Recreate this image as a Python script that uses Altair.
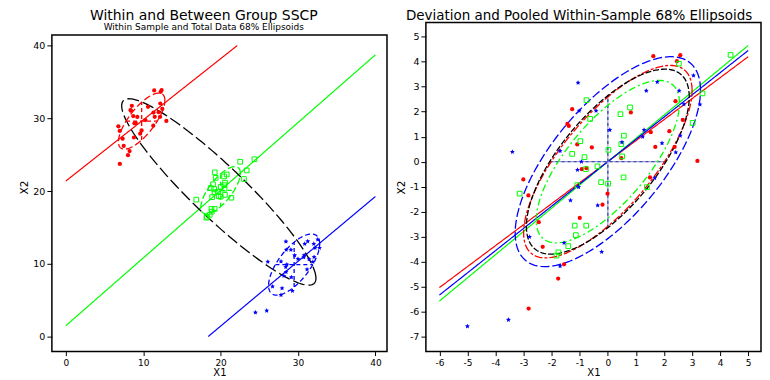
import math
import altair as alt
import pandas as pd

# ---------------- data ----------------
groups = ["red", "green", "blue"]
colors = {"red": "#FF0000", "green": "#00FF00", "blue": "#0000FF"}

# deviations from each group's mean (right panel)
red_dx = [1.62, 2.58, 2.46, -1.27, -1.44, -1.39, -1.09, -0.57, -0.93, -0.76,
          -3.01, 2.41, 0.82, 2.67, 2.19, 1.53, 1.69, 2.38, 0.48, 3.19,
          1.50, -2.83, -1.00, -2.46, -2.32, -1.56, -1.77, -2.82, -0.01, -0.19]
red_dy = [4.22, 4.26, 4.02, 2.10, 1.51, 1.43, 0.69, 0.57, -0.30, -0.26,
          -0.71, 2.42, 1.97, 1.67, 1.22, 1.18, 0.59, 0.59, 0.14, 0.03,
          -0.63, -1.35, -2.25, -2.42, -3.41, -4.11, -4.68, -5.88, -1.28, -1.72]
green_dx = [-0.76, -0.63, -0.98, -1.27, -0.83, -0.78, -1.09, 2.53, 4.37, 3.37,
            0.79, 0.45, 3.02, 0.57, 0.48, 0.02, 0.51, -0.37, 0.56, -0.24,
            0.01, 1.39, -3.14, -1.18, -0.77, -1.14, -1.41, -1.76, -1.83]
green_dy = [2.46, 1.71, 0.82, 0.31, 0.18, -0.30, -0.94, 3.92, 4.27, 2.73,
            2.17, 1.90, 1.55, 1.04, 0.70, 0.47, 0.21, -0.19, -0.63, -0.82,
            -0.88, -1.02, -1.28, -2.56, -2.56, -2.94, -3.38, -3.63, -3.76]
blue_dx = [-1.06, -3.40, -1.02, -1.70, -0.94, -1.08, -1.04, 1.76, 3.05, 1.37,
           2.54, 2.71, 3.28, -0.42, 0.07, 1.29, 1.24, 2.58, 0.50, 1.93,
           2.42, 1.67, -1.33, -2.79, -1.56, -1.70, -3.54, -5.00, -0.36, -0.22]
blue_dy = [3.16, 0.39, 2.04, 0.43, 0.00, -0.33, -1.02, 3.19, 3.45, 2.84,
           2.84, 2.30, 2.29, 2.04, 1.27, 1.27, 1.00, 1.04, 0.78, 0.74,
           0.37, -0.66, -1.55, -3.01, -3.25, -4.18, -6.33, -6.59, -1.75, -3.61]

# group means (left panel)
mean_x = {"red": 9.8, "green": 20.0, "blue": 29.5}
mean_y = {"red": 29.6, "green": 20.1, "blue": 9.9}
# within-group regression slopes
slope = {"red": 0.84, "green": 0.93, "blue": 0.89}
# within-group 68% ellipse parameters (sd x, sd y, correlation)
ell_sx = {"red": 3.0, "green": 2.55, "blue": 3.3}
ell_sy = {"red": 3.85, "green": 3.25, "blue": 4.2}
ell_r = {"red": 0.74, "green": 0.72, "blue": 0.68}
# total-data ellipse and pooled within ellipse
total_ell = {"cx": 19.77, "cy": 19.87, "sx": 12.55, "sy": 12.8, "r": -0.925}
pooled_ell = {"sx": 2.9, "sy": 3.7, "r": 0.70}

left_ticks = [0, 10, 20, 30, 40]
right_xticks = [-6, -5, -4, -3, -2, -1, 0, 1, 2, 3, 4, 5]
right_yticks = [-7, -6, -5, -4, -3, -2, -1, 0, 1, 2, 3, 4, 5]

# plot-frame extents (data units)
left_frame = {"x": -1.8, "x2": 41.5, "y": -2.05, "y2": 41.44}
right_frame = {"x": -6.48, "x2": 5.455, "y": -7.6, "y2": 5.57}

dev = {"red": (red_dx, red_dy), "green": (green_dx, green_dy), "blue": (blue_dx, blue_dy)}
rows = []
for g in groups:
    for dx, dy in zip(*dev[g]):
        rows.append({"group": g, "dx": dx, "dy": dy,
                     "x": mean_x[g] + dx, "y": mean_y[g] + dy})
pts = pd.DataFrame(rows)

# ---------------- helpers ----------------
LX = alt.Scale(domain=[left_frame["x"], left_frame["x2"]], nice=False, zero=False)
LY = alt.Scale(domain=[left_frame["y"], 43.15], nice=False, zero=False)
RX = alt.Scale(domain=[right_frame["x"], right_frame["x2"]], nice=False, zero=False)
RY = alt.Scale(domain=[right_frame["y"], right_frame["y2"]], nice=False, zero=False)
LBL = "toString(datum.value)"


def xenc(sc, ticks, f="x"):
    return alt.X(f"{f}:Q", scale=sc, axis=alt.Axis(values=ticks, title="X1", labelExpr=LBL))


def yenc(sc, ticks, f="y"):
    return alt.Y(f"{f}:Q", scale=sc, axis=alt.Axis(values=ticks, title="X2", labelExpr=LBL))


def ellipse(cx, cy, sx, sy, r, color, dash, xs, ys, xt, yt, sw=1.3):
    k = math.sqrt(1 - r * r)
    return alt.Chart(alt.sequence(0, 181, 1, as_="i")).transform_calculate(
        t="datum.i * 2 * PI / 180"
    ).transform_calculate(
        x=f"{cx} + {sx} * cos(datum.t)",
        y=f"{cy} + {sy} * ({r} * cos(datum.t) + {k} * sin(datum.t))",
    ).mark_line(color=color, strokeDash=dash, strokeWidth=sw, clip=True).encode(
        x=xenc(xs, xt), y=yenc(ys, yt), order="i:Q"
    )


def regline(mx, my, b, color, x0, x1, ylo, yhi, xs, ys, xt, yt):
    return alt.Chart(alt.sequence(x0, x1 + 0.001, 0.05, as_="x")).transform_calculate(
        y=f"{my} + {b} * (datum.x - {mx})"
    ).transform_filter(
        f"datum.y >= {ylo} && datum.y <= {yhi}"
    ).mark_line(color=color, strokeWidth=1.2, clip=True).encode(
        x=xenc(xs, xt), y=yenc(ys, yt)
    )


def cross(cx, cy, sx, sy, r, color, dash, xs, ys, xt, yt, sw=1.3):
    k = math.sqrt(1 - r * r)
    d = pd.DataFrame({
        "x": [cx - sx * k, cx], "x2": [cx + sx * k, cx],
        "y": [cy, cy - sy * k], "y2": [cy, cy + sy * k],
    })
    props = dict(color=color, strokeWidth=sw)
    if dash:
        props["strokeDash"] = dash
    return alt.Chart(d).mark_rule(**props).encode(
        x=xenc(xs, xt), x2="x2:Q", y=yenc(ys, yt), y2="y2:Q"
    )


def frame(fr, xs, ys, xt, yt):
    return alt.Chart(pd.DataFrame([fr])).mark_rect(
        fillOpacity=0, stroke="black", strokeWidth=1.5
    ).encode(x=xenc(xs, xt), x2="x2:Q", y=yenc(ys, yt), y2="y2:Q")


STAR = "M0,-1L0.28,-0.38L0.95,-0.31L0.45,0.15L0.59,0.81L0,0.48L-0.59,0.81L-0.45,0.15L-0.95,-0.31L-0.28,-0.38Z"


def points(xs, ys, xt, yt, xf, yf):
    base = alt.Chart(pts)
    r = base.transform_filter("datum.group == 'red'").mark_point(
        shape="circle", filled=True, size=18, color=colors["red"], opacity=1
    ).encode(x=xenc(xs, xt, xf), y=yenc(ys, yt, yf))
    g = base.transform_filter("datum.group == 'green'").mark_point(
        shape="square", filled=False, size=22, color=colors["green"], strokeWidth=1, opacity=1
    ).encode(x=xenc(xs, xt, xf), y=yenc(ys, yt, yf))
    b = base.transform_filter("datum.group == 'blue'").mark_point(
        shape=STAR, filled=True, size=26, color=colors["blue"], opacity=1
    ).encode(x=xenc(xs, xt, xf), y=yenc(ys, yt, yf))
    return [r, g, b]


# ---------------- left panel ----------------
ldash = {"red": [7, 3], "green": [7, 3], "blue": [5, 3]}
left_layers = []
for g in groups:
    left_layers.append(regline(mean_x[g], mean_y[g], slope[g], colors[g], 0, 40, 0, 40,
                               LX, LY, left_ticks, left_ticks))
left_layers.append(ellipse(total_ell["cx"], total_ell["cy"], total_ell["sx"], total_ell["sy"],
                           total_ell["r"], "black", [12, 4], LX, LY, left_ticks, left_ticks))
for g in groups:
    left_layers.append(ellipse(mean_x[g], mean_y[g], ell_sx[g], ell_sy[g], ell_r[g], colors[g],
                               ldash[g], LX, LY, left_ticks, left_ticks))
    left_layers.append(cross(mean_x[g], mean_y[g], ell_sx[g], ell_sy[g], ell_r[g], colors[g],
                             [4, 3], LX, LY, left_ticks, left_ticks))
left_layers += points(LX, LY, left_ticks, left_ticks, "x", "y")
left_layers.append(frame(left_frame, LX, LY, left_ticks, left_ticks))

left = alt.layer(*left_layers).properties(
    width=336, height=330,
    title=alt.TitleParams(
        text="Within and Between Group SSCP",
        subtitle="Within Sample and Total Data 68% Ellipsoids",
        font="DejaVu Sans", subtitleFont="DejaVu Sans",
        fontSize=14, subtitleFontSize=9, fontWeight="normal",
        color="black", subtitleColor="black",
        anchor="middle", frame="bounds", offset=-10, subtitlePadding=0,
    ),
)

# ---------------- right panel ----------------
rdash = {"red": [8, 2, 3, 2], "green": [7, 3, 2, 3], "blue": [9, 3]}
right_layers = []
for g in groups:
    right_layers.append(regline(0, 0, slope[g], colors[g], -6, 5, -100, 100,
                                RX, RY, right_xticks, right_yticks))
right_layers.append(cross(0, 0, pooled_ell["sx"], pooled_ell["sy"], pooled_ell["r"], "#a59ad8",
                          None, RX, RY, right_xticks, right_yticks, sw=1.2))
right_layers.append(cross(0, 0, pooled_ell["sx"], pooled_ell["sy"], pooled_ell["r"], "#3c55b0",
                          [3, 3], RX, RY, right_xticks, right_yticks, sw=1.4))
for g in ["blue", "red"]:
    right_layers.append(ellipse(0, 0, ell_sx[g], ell_sy[g], ell_r[g], colors[g], rdash[g],
                                RX, RY, right_xticks, right_yticks))
right_layers.append(ellipse(0, 0, pooled_ell["sx"], pooled_ell["sy"], pooled_ell["r"], "black",
                            [6, 2], RX, RY, right_xticks, right_yticks))
right_layers.append(ellipse(0, 0, ell_sx["green"], ell_sy["green"], ell_r["green"], colors["green"],
                            rdash["green"], RX, RY, right_xticks, right_yticks))
right_layers += points(RX, RY, right_xticks, right_yticks, "dx", "dy")
right_layers.append(frame(right_frame, RX, RY, right_xticks, right_yticks))

right = alt.layer(*right_layers).properties(
    width=336, height=330,
    title=alt.TitleParams(
        text="Deviation and Pooled Within-Sample 68% Ellipsoids",
        font="DejaVu Sans", fontSize=13.5, fontWeight="normal", color="black",
        anchor="middle", frame="bounds", offset=-1,
    ),
)

chart = alt.hconcat(left, right, spacing=8).properties(
    padding={"left": 11, "top": 0, "right": 0, "bottom": 0}
).configure_axis(
    labelFont="DejaVu Sans", labelFontSize=9.5, labelColor="black",
    titleFont="DejaVu Sans", titleFontSize=10.5, titleFontWeight="normal", titleColor="black",
    tickColor="black", domain=False, tickSize=5, labelPadding=2, titlePadding=3,
    grid=False,
).configure_axisX(titlePadding=0, tickSize=4, labelPadding=3, labelFontSize=9,
                  titleFontSize=10).configure_view(stroke=None)

chart.save("out.html", embed_options={"renderer": "svg", "actions": False})
